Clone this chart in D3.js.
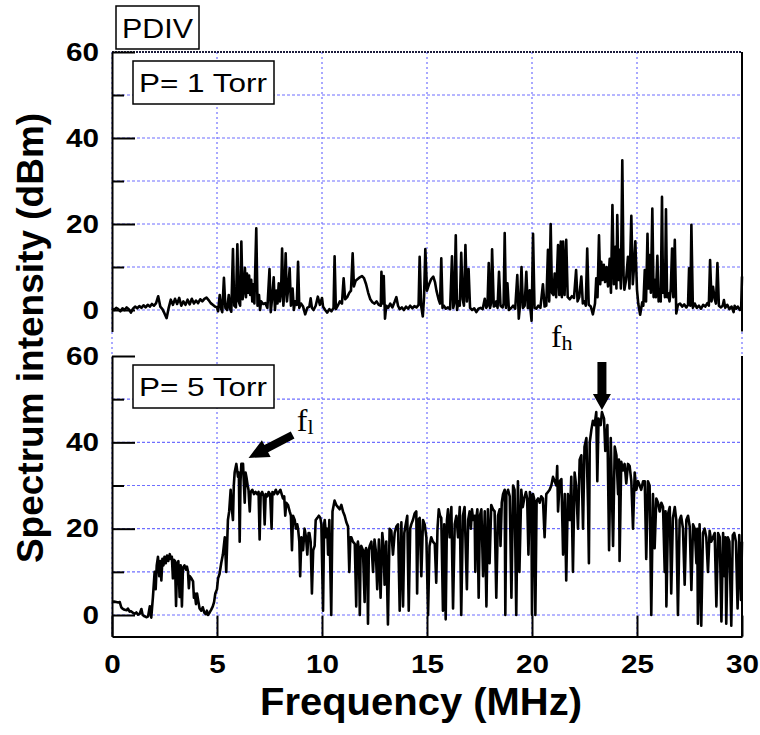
<!DOCTYPE html>
<html lang="en">
<head>
<meta charset="utf-8">
<title>PDIV spectrum | 1 Torr vs 5 Torr</title>
<script src="https://cdn.jsdelivr.net/npm/d3@7"></script>
<style>
  body { margin: 0; background: #ffffff; }
  text { font-family: "Liberation Sans", Arial, Helvetica, sans-serif; }
  .grid-h { stroke: #6f6fff; stroke-width: 1.2; stroke-dasharray: 3,2; }
  .grid-v { stroke: #6f6fff; stroke-width: 1.2; stroke-dasharray: 2,3; }
  .axis path, .axis line { stroke: #000; stroke-width: 2; }
  .axis text { font-weight: bold; font-size: 25px; fill: #000; }
  .trace { fill: none; stroke: #000; stroke-width: 2.6; stroke-linejoin: round; }
</style>
</head>
<body>
<div id="chart"></div>
<script>

// ---- data -------------------------------------------------------------
var freqTicks = [0, 5, 10, 15, 20, 25, 30];      // MHz
var dbmMajor = [0, 20, 40, 60];
var dbmMinor = [10, 30, 50];
var gridLevels = [0, 10, 20, 30, 40, 50];
var figureLabel = "PDIV";
var panelLabels = ["P= 1 Torr", "P= 5 Torr"];

// [MHz, dBm]
var spectrum1Torr = [
  [0.0,0.3],[0.1,0.0],[0.2,0.5],[0.3,0.2],[0.4,-0.3],[0.5,0.4],[0.6,0.0],[0.7,0.6],[0.8,0.2],[0.9,-0.6],
  [1.0,0.3],[1.1,0.8],[1.2,0.4],[1.3,0.9],[1.4,0.5],[1.5,1.1],[1.6,0.6],[1.7,1.2],[1.8,0.8],[1.9,1.4],
  [2.0,1.0],[2.1,1.6],[2.2,3.2],[2.3,0.8],[2.4,0.2],[2.5,-0.8],[2.6,-1.9],[2.7,0.5],[2.8,2.4],[2.9,1.2],
  [3.0,2.6],[3.1,1.4],[3.2,2.8],[3.3,1.0],[3.4,2.0],[3.5,1.2],[3.6,2.4],[3.7,1.3],[3.8,2.6],[3.9,1.5],
  [4.0,2.2],[4.1,1.6],[4.2,2.5],[4.3,2.0],[4.4,2.6],[4.5,2.9],[4.6,2.3],[4.7,1.6],[4.8,1.2],[4.9,0.8],
  [5.0,0.6],[5.05,-0.3],[5.13,3.5],[5.2,0.2],[5.25,-0.5],[5.33,7.5],[5.4,0.5],[5.48,0.0],[5.56,3.5],[5.62,0.3],
  [5.68,-0.4],[5.76,14.2],[5.82,1.0],[5.9,0.6],[5.97,15.3],[6.03,2.0],[6.1,1.0],[6.16,15.9],[6.22,2.5],[6.28,5.0],
  [6.33,9.8],[6.38,3.0],[6.43,8.5],[6.48,4.0],[6.53,8.0],[6.58,3.5],[6.63,7.0],[6.68,2.0],[6.73,6.0],[6.78,1.5],
  [6.87,19.0],[6.93,1.0],[7.0,3.5],[7.05,0.0],[7.1,2.0],[7.2,1.4],[7.3,1.6],[7.4,0.5],[7.5,9.5],[7.56,-0.5],
  [7.62,2.5],[7.7,7.6],[7.76,0.0],[7.82,4.5],[7.88,1.5],[7.94,6.2],[8.0,2.0],[8.05,4.0],[8.1,14.3],[8.16,1.0],
  [8.22,5.0],[8.27,13.2],[8.33,2.0],[8.4,5.5],[8.46,9.7],[8.52,1.0],[8.6,5.0],[8.66,0.0],[8.72,2.0],[8.8,1.2],
  [8.86,11.2],[8.92,0.5],[9.0,1.5],[9.1,0.8],[9.2,-1.0],[9.3,0.5],[9.4,0.8],[9.46,2.7],[9.52,0.5],[9.6,0.0],
  [9.7,1.0],[9.8,3.1],[9.9,1.2],[10.0,2.8],[10.05,0.8],[10.15,0.0],[10.25,-0.6],[10.35,0.2],[10.45,-0.3],[10.55,0.5],
  [10.6,12.5],[10.66,0.2],[10.75,1.0],[10.85,2.0],[10.95,1.5],[11.03,7.4],[11.1,2.5],[11.2,3.0],[11.3,4.0],[11.38,4.5],
  [11.46,13.2],[11.52,5.5],[11.6,6.8],[11.7,7.2],[11.8,7.6],[11.9,7.9],[12.0,7.4],[12.1,6.0],[12.2,4.0],[12.3,2.5],
  [12.4,1.8],[12.5,1.5],[12.6,2.0],[12.7,1.2],[12.8,1.0],[12.83,8.9],[12.88,1.5],[12.94,7.9],[13.0,-2.0],[13.06,1.0],
  [13.15,0.5],[13.25,1.5],[13.35,0.6],[13.45,1.8],[13.54,3.0],[13.62,1.0],[13.7,0.2],[13.8,0.6],[13.9,0.0],[14.0,0.8],
  [14.1,0.3],[14.2,1.0],[14.3,0.4],[14.4,0.9],[14.5,0.6],[14.6,1.2],[14.65,12.4],[14.72,1.0],[14.8,-1.5],[14.86,3.0],
  [14.92,14.2],[15.0,4.5],[15.1,6.0],[15.2,7.2],[15.3,7.75],[15.38,6.5],[15.45,4.5],[15.55,2.5],[15.62,1.5],[15.68,12.0],
  [15.74,0.5],[15.8,1.0],[15.9,0.3],[16.0,0.6],[16.1,0.2],[16.19,12.5],[16.25,0.5],[16.3,1.5],[16.37,17.4],[16.43,0.0],
  [16.5,2.0],[16.56,1.0],[16.63,13.3],[16.7,2.5],[16.76,1.0],[16.83,15.1],[16.9,2.0],[16.98,9.5],[17.05,0.5],[17.15,0.0],
  [17.25,0.4],[17.35,-0.5],[17.45,0.3],[17.55,0.5],[17.65,0.2],[17.75,2.6],[17.82,0.5],[17.88,1.0],[17.94,10.9],[18.0,0.5],
  [18.05,1.5],[18.1,14.1],[18.18,0.8],[18.25,1.0],[18.3,2.0],[18.36,0.5],[18.43,8.9],[18.5,1.0],[18.6,0.6],[18.65,1.5],
  [18.7,17.9],[18.76,0.5],[18.83,6.2],[18.9,0.0],[19.0,0.4],[19.1,1.0],[19.2,0.3],[19.3,8.1],[19.37,-2.0],[19.43,1.0],
  [19.5,10.0],[19.57,0.5],[19.65,1.0],[19.73,8.9],[19.8,0.5],[19.85,0.5],[19.89,4.6],[19.93,0.0],[19.98,-2.5],[20.05,17.7],
  [20.12,0.5],[20.2,0.3],[20.3,1.0],[20.4,0.5],[20.52,6.0],[20.6,0.8],[20.68,1.0],[20.76,14.0],[20.82,2.0],[20.89,20.0],
  [20.95,4.0],[21.02,3.5],[21.08,8.5],[21.15,3.0],[21.24,15.1],[21.3,3.5],[21.37,15.9],[21.42,3.0],[21.48,15.9],[21.55,3.5],
  [21.63,16.3],[21.7,3.0],[21.8,2.5],[21.9,3.2],[22.0,2.8],[22.1,9.3],[22.17,2.0],[22.25,3.0],[22.35,7.8],[22.42,1.5],
  [22.5,2.0],[22.56,1.0],[22.63,14.3],[22.7,1.2],[22.8,0.8],[22.9,-1.0],[23.0,1.5],[23.06,7.4],[23.12,3.0],[23.19,17.4],
  [23.25,6.0],[23.3,11.2],[23.36,7.0],[23.42,10.5],[23.48,6.5],[23.55,10.0],[23.62,5.5],[23.7,11.9],[23.76,4.0],[23.83,24.4],
  [23.9,6.0],[23.97,14.7],[24.02,5.0],[24.06,22.1],[24.12,7.0],[24.17,14.0],[24.23,5.0],[24.3,34.8],[24.36,8.0],[24.4,4.7],
  [24.48,7.0],[24.57,12.4],[24.64,5.0],[24.73,21.9],[24.8,6.0],[24.86,10.0],[24.92,16.0],[25.0,4.7],[25.06,1.5],[25.15,-1.1],
  [25.25,1.8],[25.3,1.0],[25.37,9.3],[25.43,2.0],[25.5,17.7],[25.55,5.0],[25.6,12.8],[25.66,4.0],[25.73,23.6],[25.79,3.0],
  [25.84,7.0],[25.9,3.0],[25.97,12.6],[26.03,2.0],[26.08,4.7],[26.13,2.0],[26.19,26.3],[26.24,4.0],[26.29,7.0],[26.33,3.0],
  [26.38,23.4],[26.43,3.0],[26.48,3.9],[26.55,2.0],[26.61,5.0],[26.67,14.3],[26.73,3.0],[26.8,16.3],[26.87,-0.8],[26.95,1.2],
  [27.05,1.5],[27.15,0.8],[27.25,1.3],[27.35,0.6],[27.43,1.2],[27.48,9.7],[27.54,1.0],[27.59,19.8],[27.66,0.5],[27.75,1.5],
  [27.85,0.5],[27.95,1.0],[28.05,0.3],[28.15,1.2],[28.25,0.8],[28.35,1.6],[28.42,1.0],[28.48,11.6],[28.55,2.0],[28.62,5.4],
  [28.7,2.5],[28.76,1.5],[28.83,10.9],[28.9,1.0],[29.0,0.6],[29.08,1.0],[29.14,2.3],[29.2,0.5],[29.3,1.2],[29.4,0.2],
  [29.5,0.8],[29.6,-0.5],[29.65,1.0],[29.72,0.3],[29.8,0.8],[29.9,0.0],[29.96,0.4],[30.0,7.8]
];

// [MHz, dBm]
var spectrum5Torr = [
  [0.0,3.0],[0.1,3.1],[0.2,3.0],[0.3,2.9],[0.37,3.0],[0.44,1.8],[0.5,1.5],[0.6,1.2],[0.7,1.1],[0.76,1.5],
  [0.84,0.8],[0.9,0.9],[1.0,0.5],[1.08,0.3],[1.16,0.6],[1.24,0.1],[1.32,0.3],[1.4,1.4],[1.46,0.0],[1.55,-0.3],
  [1.65,-0.5],[1.72,-0.3],[1.8,2.0],[1.87,-0.6],[1.95,4.2],[2.03,10.0],[2.08,6.0],[2.13,11.5],[2.19,13.5],[2.25,9.0],
  [2.3,12.5],[2.35,8.0],[2.4,13.0],[2.45,11.5],[2.5,13.5],[2.56,12.0],[2.62,13.8],[2.68,12.5],[2.75,14.1],[2.8,13.0],
  [2.85,13.5],[2.9,8.5],[2.95,12.8],[3.0,12.5],[3.05,2.1],[3.1,12.0],[3.16,12.5],[3.22,4.2],[3.27,11.5],[3.33,2.0],
  [3.38,11.0],[3.45,11.5],[3.52,10.5],[3.57,11.2],[3.62,10.0],[3.66,6.2],[3.7,9.0],[3.78,8.5],[3.86,7.8],[3.9,4.0],
  [3.94,5.0],[4.0,2.5],[4.05,5.0],[4.1,3.5],[4.17,1.5],[4.25,1.0],[4.32,1.8],[4.4,0.5],[4.47,0.2],[4.52,1.0],
  [4.57,0.0],[4.65,0.6],[4.72,1.2],[4.8,2.0],[4.86,3.0],[4.92,5.0],[5.0,6.0],[5.05,8.5],[5.12,9.5],[5.2,12.0],
  [5.28,14.0],[5.37,18.0],[5.44,10.0],[5.52,22.0],[5.58,24.0],[5.65,29.0],[5.7,25.0],[5.76,22.0],[5.8,30.0],[5.84,33.0],
  [5.92,35.0],[6.0,32.0],[6.04,33.0],[6.08,17.0],[6.12,31.0],[6.16,35.0],[6.24,35.0],[6.32,26.0],[6.36,33.0],[6.4,32.0],
  [6.46,30.0],[6.5,29.0],[6.56,24.0],[6.6,28.5],[6.68,29.0],[6.76,28.0],[6.84,28.5],[6.92,28.0],[6.98,28.5],[7.03,17.5],
  [7.08,28.0],[7.15,28.5],[7.22,27.5],[7.27,21.0],[7.32,28.0],[7.4,27.5],[7.46,28.5],[7.53,28.0],[7.6,20.0],[7.64,28.5],
  [7.72,28.0],[7.8,29.0],[7.88,28.0],[7.95,28.5],[8.02,29.0],[8.08,28.0],[8.14,27.0],[8.2,27.5],[8.25,23.0],[8.3,26.0],
  [8.38,25.5],[8.46,24.0],[8.52,23.0],[8.57,15.0],[8.62,23.0],[8.7,22.0],[8.76,20.0],[8.82,21.0],[8.86,20.0],[8.92,17.0],
  [8.96,9.0],[9.02,18.0],[9.1,15.0],[9.17,20.0],[9.24,18.0],[9.3,14.0],[9.36,19.0],[9.4,19.0],[9.46,17.0],[9.52,5.0],
  [9.58,15.0],[9.65,16.0],[9.7,22.0],[9.78,22.5],[9.85,23.0],[9.92,22.5],[9.97,21.0],[10.05,1.0],[10.1,21.0],[10.13,22.0],
  [10.2,18.0],[10.25,20.0],[10.29,14.0],[10.35,22.0],[10.44,0.0],[10.5,24.0],[10.6,26.5],[10.68,25.5],[10.76,25.0],[10.84,24.5],
  [10.92,25.5],[11.0,24.0],[11.08,23.0],[11.16,21.5],[11.24,20.5],[11.3,10.0],[11.35,18.0],[11.4,18.0],[11.47,17.0],[11.56,16.5],
  [11.63,2.0],[11.67,16.0],[11.71,17.0],[11.76,15.0],[11.8,0.0],[11.84,15.5],[11.87,16.0],[11.95,15.0],[12.03,3.0],[12.07,15.0],
  [12.1,15.5],[12.15,14.0],[12.19,-2.0],[12.23,15.0],[12.27,16.0],[12.35,17.0],[12.43,10.0],[12.5,17.5],[12.56,15.0],[12.63,6.0],
  [12.71,17.5],[12.79,4.0],[12.87,19.0],[12.93,16.0],[12.98,7.0],[13.06,17.0],[13.14,-2.2],[13.22,20.0],[13.3,19.5],[13.38,14.0],
  [13.46,19.0],[13.54,20.5],[13.62,21.0],[13.7,1.0],[13.78,21.5],[13.86,2.0],[13.92,19.0],[13.97,20.5],[14.06,23.0],[14.13,1.0],
  [14.2,20.0],[14.25,21.0],[14.33,22.0],[14.41,23.5],[14.49,24.0],[14.53,5.0],[14.58,22.0],[14.65,22.5],[14.73,9.0],[14.81,22.0],
  [14.89,21.0],[14.97,18.0],[15.05,0.0],[15.12,16.0],[15.2,18.0],[15.28,17.0],[15.37,16.5],[15.44,7.5],[15.5,20.0],[15.56,24.5],
  [15.62,23.0],[15.68,22.5],[15.76,1.0],[15.82,21.0],[15.89,-1.0],[15.95,22.0],[16.0,24.5],[16.08,18.0],[16.16,25.0],[16.24,1.5],
  [16.32,21.0],[16.4,23.0],[16.48,18.0],[16.56,25.0],[16.63,0.0],[16.71,23.0],[16.79,25.0],[16.9,6.0],[16.96,22.0],[17.03,24.0],
  [17.09,20.0],[17.14,24.5],[17.2,22.0],[17.27,23.0],[17.3,10.0],[17.34,22.0],[17.4,24.5],[17.46,4.0],[17.52,23.0],[17.59,24.5],
  [17.67,9.0],[17.75,24.0],[17.83,2.0],[17.9,24.5],[17.98,12.0],[18.06,25.5],[18.14,24.5],[18.22,24.0],[18.3,4.0],[18.38,23.0],
  [18.46,24.5],[18.5,16.0],[18.56,26.0],[18.62,28.0],[18.7,29.0],[18.73,0.0],[18.78,28.0],[18.86,29.0],[18.94,27.5],[19.02,4.0],
  [19.1,30.0],[19.17,29.0],[19.25,0.0],[19.33,31.0],[19.4,10.0],[19.49,29.0],[19.56,25.0],[19.63,27.0],[19.71,28.5],[19.77,27.0],
  [19.83,14.0],[19.9,28.5],[19.97,27.0],[20.0,0.0],[20.05,28.0],[20.1,27.0],[20.16,0.0],[20.22,26.5],[20.29,27.0],[20.37,26.0],
  [20.44,27.5],[20.52,27.0],[20.6,18.0],[20.68,28.0],[20.76,28.5],[20.84,29.0],[20.92,30.0],[21.0,32.0],[21.08,31.0],[21.16,30.0],
  [21.2,34.5],[21.24,24.0],[21.32,31.0],[21.4,31.5],[21.48,14.0],[21.56,28.0],[21.63,8.0],[21.71,28.0],[21.8,22.0],[21.87,32.0],
  [21.95,10.0],[22.03,33.0],[22.1,30.0],[22.19,20.0],[22.27,36.0],[22.35,37.0],[22.43,20.0],[22.5,39.0],[22.59,41.0],[22.67,25.0],
  [22.71,12.0],[22.75,40.0],[22.83,43.0],[22.9,45.0],[22.98,44.0],[23.06,47.0],[23.11,31.0],[23.17,45.5],[23.27,44.0],[23.33,47.0],
  [23.43,45.5],[23.49,38.0],[23.59,44.0],[23.67,15.0],[23.75,41.0],[23.86,16.0],[23.94,39.0],[24.02,37.0],[24.1,28.0],[24.14,36.0],
  [24.17,12.5],[24.25,35.5],[24.33,33.5],[24.41,35.0],[24.49,30.5],[24.57,35.0],[24.65,34.5],[24.73,31.0],[24.81,20.0],[24.89,33.0],
  [24.97,29.0],[25.05,31.0],[25.13,30.0],[25.2,29.0],[25.29,31.0],[25.37,31.0],[25.44,13.0],[25.52,31.0],[25.6,30.0],[25.68,0.0],
  [25.76,28.0],[25.84,15.5],[25.92,27.0],[26.0,26.0],[26.08,24.0],[26.16,26.0],[26.24,25.0],[26.32,10.0],[26.36,24.0],[26.4,2.0],
  [26.48,23.5],[26.56,25.0],[26.63,5.0],[26.71,22.5],[26.8,25.0],[26.87,22.0],[26.95,0.0],[27.03,22.0],[27.1,23.0],[27.19,20.0],
  [27.27,7.0],[27.35,22.0],[27.43,23.0],[27.51,20.5],[27.59,5.8],[27.67,21.0],[27.75,20.0],[27.83,12.0],[27.87,20.0],[27.9,-2.0],
  [27.98,21.0],[28.06,-2.5],[28.14,19.0],[28.22,20.0],[28.3,18.0],[28.38,10.0],[28.46,19.5],[28.54,17.0],[28.62,18.0],[28.7,19.0],
  [28.78,2.0],[28.86,19.0],[28.94,18.0],[29.02,-1.5],[29.1,19.0],[29.17,9.0],[29.21,18.0],[29.25,-2.0],[29.33,18.0],[29.4,17.0],
  [29.49,-2.5],[29.56,18.5],[29.63,19.0],[29.71,17.0],[29.79,1.5],[29.87,18.5],[29.95,3.5],[30.0,17.0]
];

// annotation arrows in data units: [tailMHz, tailDbm, tipMHz, tipDbm]
var arrowLow = [8.6, 41.7, 6.5, 36.4];
var arrowHigh = [23.33, 58.6, 23.33, 47.5];

// ---- layout -----------------------------------------------------------
var dims = { w: 760, h: 735, left: 112, right: 742 };
var panels = [
  { top: 52, bottom: 331.5, data: spectrum1Torr, label: panelLabels[0] },
  { top: 356, bottom: 636.6, data: spectrum5Torr, label: panelLabels[1] }
];

var svg = d3.select('#chart')
  .append('svg')
    .attr('width', dims.w)
    .attr('height', dims.h)
    .style('background', '#ffffff');

var x = d3.scaleLinear()
  .domain([0, 30])
  .range([dims.left, dims.right]);

panels.forEach(function(p) {
  p.y = d3.scaleLinear().domain([-5, 60]).range([p.bottom, p.top]);
});

// tick digits in the original are drawn wide
function widenDigits(sel) {
  sel.selectAll('text')
    .attr('textLength', function(d) { return String(d).length * 16.5; })
    .attr('lengthAdjust', 'spacingAndGlyphs');
}

// vertical grid runs through both panels
svg.append('g').selectAll('line')
  .data(freqTicks)
  .enter()
  .append('line')
    .attr('class', 'grid-v')
    .attr('x1', function(d) { return x(d); })
    .attr('x2', function(d) { return x(d); })
    .attr('y1', panels[0].top)
    .attr('y2', panels[1].bottom);

panels.forEach(function(p, i) {
  var g = svg.append('g');

  // horizontal grid
  g.selectAll('.grid-h')
    .data(gridLevels)
    .enter()
    .append('line')
      .attr('class', 'grid-h')
      .attr('x1', dims.left)
      .attr('x2', dims.right)
      .attr('y1', function(d) { return p.y(d); })
      .attr('y2', function(d) { return p.y(d); });

  // top frame only on the upper panel
  if (i == 0) {
    g.append('line')
      .attr('x1', dims.left).attr('x2', dims.right)
      .attr('y1', p.y(60)).attr('y2', p.y(60))
      .attr('stroke', '#1c1c3c')
      .attr('stroke-width', 2)
      .attr('stroke-dasharray', '2,1');
  }

  // right frame
  g.append('line')
    .attr('x1', dims.right).attr('x2', dims.right)
    .attr('y1', p.y(60)).attr('y2', p.bottom)
    .attr('stroke', '#000')
    .attr('stroke-width', 2);

  // trace
  var line = d3.line()
    .x(function(d) { return x(d[0]); })
    .y(function(d) { return p.y(d[1]); });

  g.append('path')
    .datum(p.data)
    .attr('class', 'trace')
    .attr('d', line);

  // y axis: major ticks with labels, minor ticks without
  g.append('g')
    .attr('class', 'axis')
    .attr('transform', 'translate(' + dims.left + ',0)')
    .call(d3.axisLeft(p.y)
      .tickValues(dbmMajor)
      .tickSizeInner(-23)
      .tickSizeOuter(0)
      .tickPadding(13)
      .tickFormat(d3.format('d')))
    .call(widenDigits);

  g.append('g')
    .attr('class', 'axis')
    .attr('transform', 'translate(' + dims.left + ',0)')
    .call(d3.axisLeft(p.y)
      .tickValues(dbmMinor)
      .tickSizeInner(-12)
      .tickSizeOuter(0)
      .tickFormat(''))
    .select('.domain').remove();

  // pressure label box
  var box = g.append('g')
    .attr('transform', 'translate(' + (dims.left + 21) + ',' + (p.top + 9) + ')');
  box.append('rect')
    .attr('width', 141).attr('height', 43)
    .attr('fill', '#fff').attr('stroke', '#000').attr('stroke-width', 1.5);
  box.append('text')
    .attr('x', 6).attr('y', 31)
    .attr('font-size', 26)
    .attr('textLength', 128)
    .attr('lengthAdjust', 'spacingAndGlyphs')
    .text(p.label);
});

// frequency axis along the bottom panel
svg.append('g')
  .attr('class', 'axis')
  .attr('transform', 'translate(0,' + panels[1].bottom + ')')
  .call(d3.axisBottom(x)
    .tickValues(freqTicks)
    .tickSizeInner(-21)
    .tickSizeOuter(0)
    .tickPadding(19))
  .call(widenDigits);

// figure tag
var tag = svg.append('g').attr('transform', 'translate(116,6)');
tag.append('rect')
  .attr('width', 83).attr('height', 43)
  .attr('fill', '#fff').attr('stroke', '#000').attr('stroke-width', 1.5);
tag.append('text')
  .attr('x', 6).attr('y', 32)
  .attr('font-size', 27)
  .attr('textLength', 71)
  .attr('lengthAdjust', 'spacingAndGlyphs')
  .text(figureLabel);

// axis titles
svg.append('text')
  .attr('x', 421).attr('y', 715)
  .attr('text-anchor', 'middle')
  .attr('font-weight', 'bold')
  .attr('font-size', 38)
  .attr('textLength', 322)
  .attr('lengthAdjust', 'spacingAndGlyphs')
  .text('Frequency (MHz)');

svg.append('text')
  .attr('transform', 'translate(43,338) rotate(-90)')
  .attr('text-anchor', 'middle')
  .attr('font-weight', 'bold')
  .attr('font-size', 37)
  .text('Spectrum intensity (dBm)');

// ---- annotations ------------------------------------------------------
function arrowPoints(a, yScale, shaftW, headW, headL) {
  var x1 = x(a[0]), y1 = yScale(a[1]), x2 = x(a[2]), y2 = yScale(a[3]);
  var len = Math.sqrt((x2 - x1) * (x2 - x1) + (y2 - y1) * (y2 - y1));
  var ux = (x2 - x1) / len, uy = (y2 - y1) / len;
  var nx = -uy, ny = ux;
  var bx = x2 - ux * headL, by = y2 - uy * headL;
  return [
    [x1 + nx * shaftW / 2, y1 + ny * shaftW / 2],
    [bx + nx * shaftW / 2, by + ny * shaftW / 2],
    [bx + nx * headW / 2, by + ny * headW / 2],
    [x2, y2],
    [bx - nx * headW / 2, by - ny * headW / 2],
    [bx - nx * shaftW / 2, by - ny * shaftW / 2],
    [x1 - nx * shaftW / 2, y1 - ny * shaftW / 2]
  ].join(' ');
}

var yLow = panels[1].y;
svg.append('polygon')
  .attr('points', arrowPoints(arrowLow, yLow, 8, 19, 20))
  .attr('fill', '#000');
svg.append('polygon')
  .attr('points', arrowPoints(arrowHigh, yLow, 9, 18, 16))
  .attr('fill', '#000');

function freqMark(fx, fy, sub) {
  var t = svg.append('text')
    .attr('x', x(fx)).attr('y', yLow(fy))
    .style('font-family', '"Liberation Serif", "Times New Roman", serif')
    .attr('font-size', 32);
  t.append('tspan').text('f');
  t.append('tspan')
    .attr('font-size', 22)
    .attr('dy', 3)
    .text(sub);
}
freqMark(8.8, 42.7, 'l');
freqMark(20.9, 62.0, 'h');

</script>
</body>
</html>
